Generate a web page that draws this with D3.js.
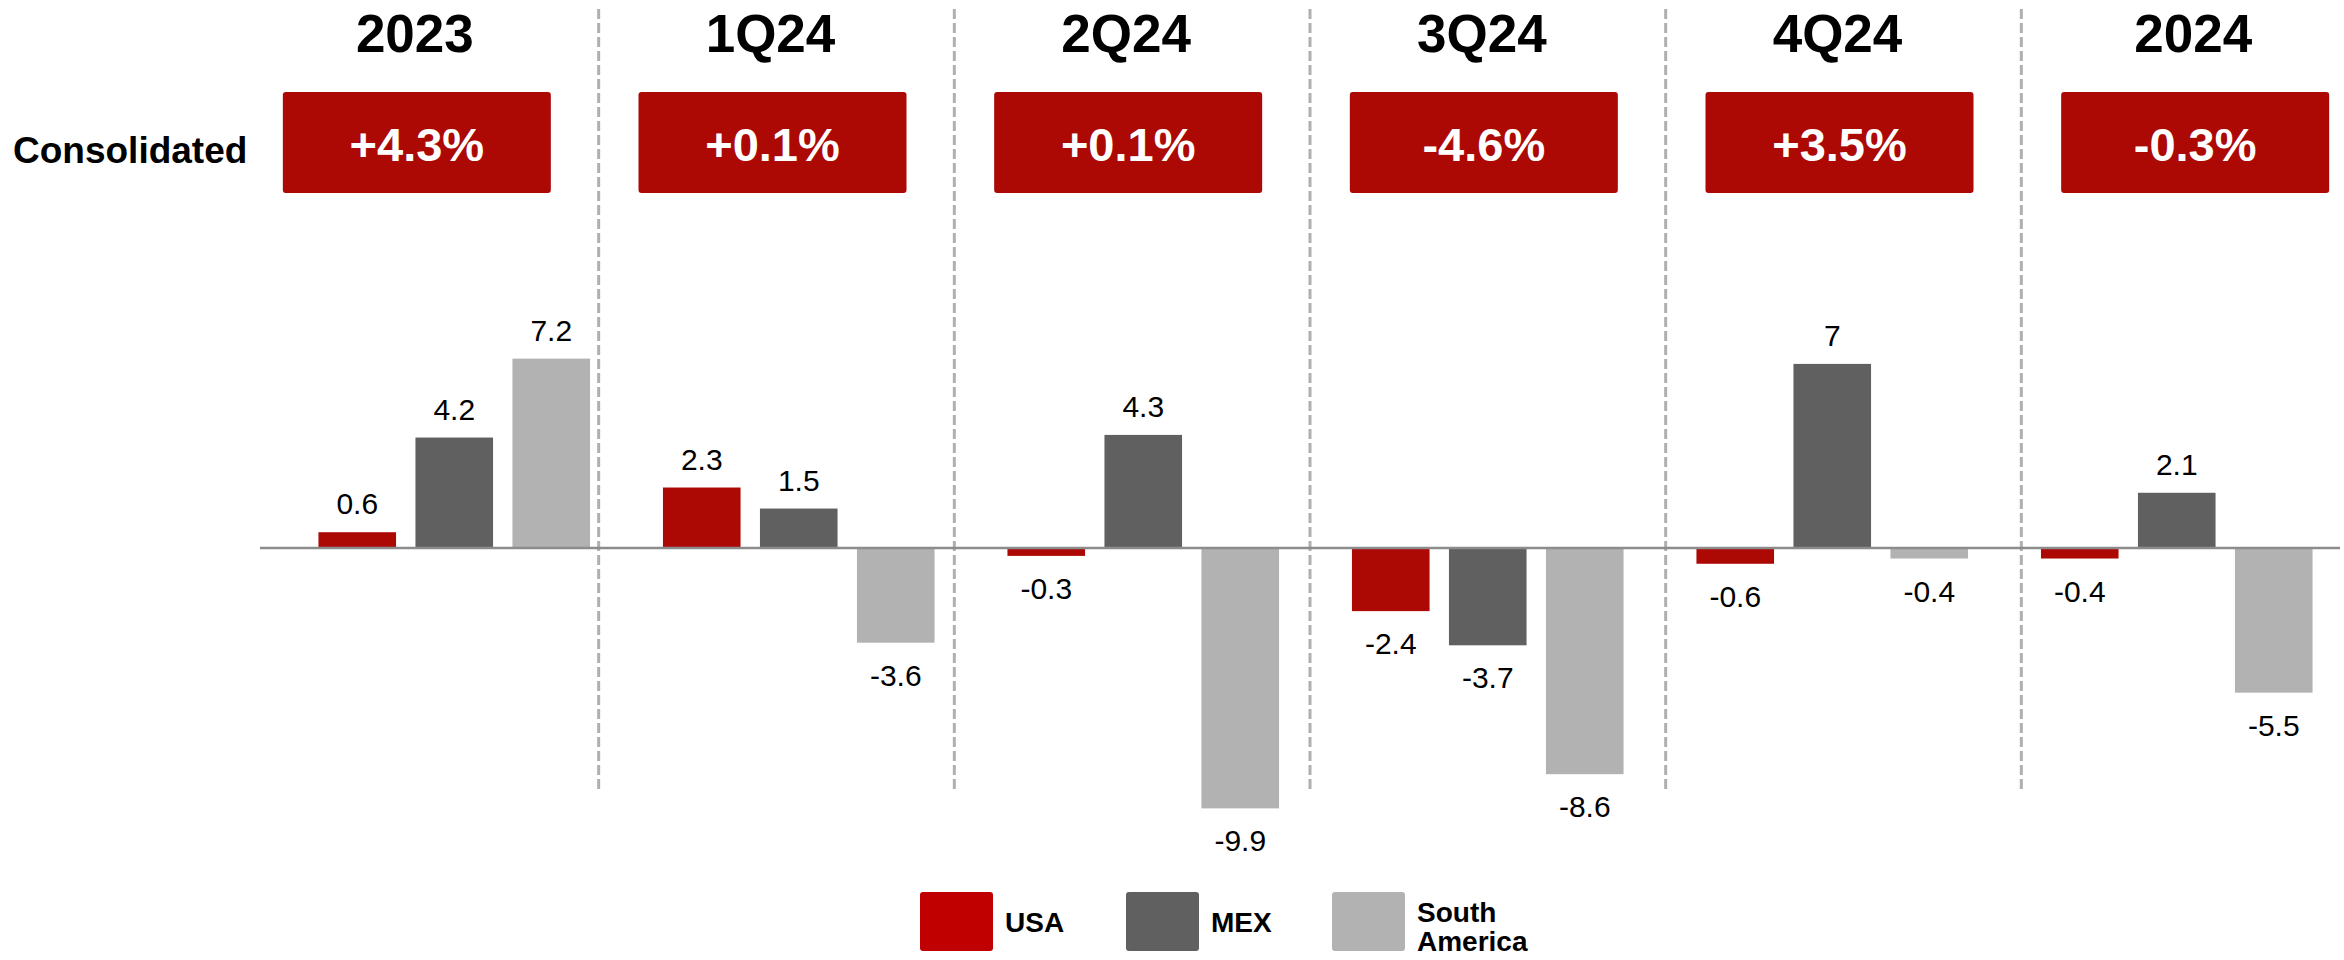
<!DOCTYPE html>
<html>
<head>
<meta charset="utf-8">
<script src="https://cdn.jsdelivr.net/npm/d3@7"></script>
<style>
	body { margin: 0; background: #fff; }
	text { font-family: 'Liberation Sans', Arial, sans-serif; }
</style>
</head>
<body>
<script>
// chart data
var periods = ['2023', '1Q24', '2Q24', '3Q24', '4Q24', '2024']
var consolidated = ['+4.3%', '+0.1%', '+0.1%', '-4.6%', '+3.5%', '-0.3%']
var seriesNames = ['USA', 'MEX', 'South America']
var usa = [0.6, 2.3, -0.3, -2.4, -0.6, -0.4]
var mex = [4.2, 1.5, 4.3, -3.7, 7, 2.1]
var southAmerica = [7.2, -3.6, -9.9, -8.6, -0.4, -5.5]

var width = 2344
var height = 960

var barColor = {'USA': '#ac0904', 'MEX': '#606060', 'South America': '#b2b2b2'}
var legendColor = {'USA': '#c00000', 'MEX': '#606060', 'South America': '#b2b2b2'}

// build rows for the bars
var rows = []
periods.forEach(function(p, i) {
	rows.push({period: p, series: 'USA', value: usa[i]})
	rows.push({period: p, series: 'MEX', value: mex[i]})
	rows.push({period: p, series: 'South America', value: southAmerica[i]})
})

var svg = d3.select('body')
	.append('svg')
		.attr('width', width)
		.attr('height', height)

// column scale for headers and dividers
var xCol = d3.scaleBand()
	.domain(periods)
	.range([243, 2377])

// group scale for the bars
var x0 = d3.scaleBand()
	.domain(periods)
	.range([282, 2349])

var x1 = d3.scaleBand()
	.domain(seriesNames)
	.range([-145.5, 145.5])
	.paddingInner(0.2)
	.paddingOuter(0.1)

var y = d3.scaleLinear()
	.domain([-10, 8])
	.range([811, 337.6])

// dashed dividers between the columns
svg.append('g')
	.selectAll('line')
		.data(periods.slice(1))
	.enter().append('line')
		.attr('x1', function(d) { return xCol(d) })
		.attr('x2', function(d) { return xCol(d) })
		.attr('y1', 9)
		.attr('y2', 792)
		.attr('stroke', '#b0b0b0')
		.attr('stroke-width', 3)
		.attr('stroke-dasharray', '10,4')

// column titles
svg.append('g')
	.selectAll('text')
		.data(periods)
	.enter().append('text')
		.attr('x', function(d) { return xCol(d) + xCol.bandwidth() / 2 - 6 })
		.attr('y', 52)
		.attr('text-anchor', 'middle')
		.style('font-size', '53px')
		.style('font-weight', 'bold')
		.text(function(d) { return d })

// consolidated row label
svg.append('text')
	.attr('x', 13)
	.attr('y', 163)
	.style('font-size', '37px')
	.style('font-weight', 'bold')
	.text('Consolidated')

// consolidated boxes
var boxes = svg.append('g')
	.selectAll('g')
		.data(periods)
	.enter().append('g')
		.attr('transform', function(d) { return 'translate(' + (xCol(d) + xCol.bandwidth() / 2 - 4) + ',0)' })

boxes.append('rect')
	.attr('x', -134)
	.attr('y', 92)
	.attr('width', 268)
	.attr('height', 101)
	.attr('rx', 3)
	.attr('fill', '#ac0904')

boxes.append('text')
	.attr('y', 161)
	.attr('text-anchor', 'middle')
	.attr('fill', '#fff')
	.style('font-size', '47px')
	.style('font-weight', 'bold')
	.text(function(d, i) { return consolidated[i] })

// bars
var barX = function(d) { return x0(d.period) + x0.bandwidth() / 2 + x1(d.series) }

svg.append('g')
	.selectAll('rect')
		.data(rows)
	.enter().append('rect')
		.attr('x', barX)
		.attr('y', function(d) { return Math.min(y(d.value), y(0)) })
		.attr('width', x1.bandwidth())
		.attr('height', function(d) { return Math.abs(y(d.value) - y(0)) })
		.attr('fill', function(d) { return barColor[d.series] })

// zero line
svg.append('line')
	.attr('x1', 260)
	.attr('x2', 2340)
	.attr('y1', y(0))
	.attr('y2', y(0))
	.attr('stroke', '#8c8c8c')
	.attr('stroke-width', 2.5)

// value labels
svg.append('g')
	.selectAll('text')
		.data(rows)
	.enter().append('text')
		.attr('x', function(d) { return barX(d) + x1.bandwidth() / 2 })
		.attr('y', function(d) { return d.value >= 0 ? y(d.value) - 18 : y(d.value) + 43 })
		.attr('text-anchor', 'middle')
		.style('font-size', '30px')
		.text(function(d) { return String(d.value) })

// legend
var xLeg = d3.scaleBand()
	.domain(seriesNames)
	.range([920, 1538])

var legend = svg.append('g')
	.selectAll('g')
		.data(seriesNames)
	.enter().append('g')
		.attr('transform', function(d) { return 'translate(' + xLeg(d) + ',892)' })

legend.append('rect')
	.attr('width', 73)
	.attr('height', 59)
	.attr('rx', 3)
	.attr('fill', function(d) { return legendColor[d] })

legend.append('text')
	.attr('x', 85)
	.attr('y', function(d) { return d == 'South America' ? 30 : 40 })
	.style('font-size', '28px')
	.style('font-weight', 'bold')
	.selectAll('tspan')
		.data(function(d) { return d.split(' ') })
	.enter().append('tspan')
		.attr('x', 85)
		.attr('dy', function(d, i) { return i == 0 ? 0 : 29 })
		.text(function(d) { return d })
</script>
</body>
</html>
